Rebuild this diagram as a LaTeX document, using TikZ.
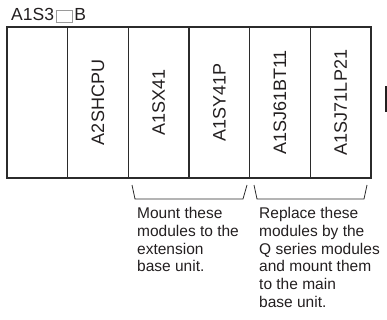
\documentclass[tikz,border=0pt]{standalone}
\usepackage{fontspec}
\setmainfont{Liberation Sans}
\usetikzlibrary{positioning}
\definecolor{FrameGrey}{HTML}{2B2B2B}
\definecolor{InkBlack}{HTML}{231F20}
\definecolor{BoxGrey}{HTML}{9A9A9A}

\begin{document}
\begin{tikzpicture}[x=1pt, y=-1pt,
    slot/.style={draw=FrameGrey, line width=1.2pt, minimum width=60.67pt,
                 minimum height=151pt, inner sep=0pt, outer sep=0pt,
                 text=InkBlack, font=\fontsize{18}{18}\selectfont},
    note/.style={anchor=north west, inner sep=0pt, align=left, text=InkBlack,
                 font=\fontsize{15.5}{17.8}\selectfont},
    brace/.style={draw=FrameGrey, line width=0.8pt}]
  \useasboundingbox (0,0) rectangle (387,320);

  % base unit title
  \node[anchor=base west, inner sep=0pt, text=InkBlack,
        font=\fontsize{17.5}{17.5}\selectfont] (model) at (11,21)
    {A1S3\hspace{1.5pt}{\setlength{\fboxrule}{0.7pt}\setlength{\fboxsep}{0pt}%
     \raisebox{-1pt}{\fcolorbox{BoxGrey}{white}{\rule{0pt}{11pt}\hspace{16pt}}}}\hspace{1.5pt}B};

  % slots
  \node[slot] (power) at (37.33,102.5) {};
  \node[slot, right=0pt of power] (cpu)  {\rotatebox{90}{A2SHCPU}};
  \node[slot, right=0pt of cpu]   (inp)  {\rotatebox{90}{A1SX41}};
  \node[slot, right=0pt of inp]   (outp) {\rotatebox{90}{A1SY41P}};
  \node[slot, right=0pt of outp]  (ccl)  {\rotatebox{90}{A1SJ61BT11}};
  \node[slot, right=0pt of ccl]   (net)  {\rotatebox{90}{A1SJ71LP21}};

  \fill[InkBlack] (385,86) rectangle (388,112);

  % brackets under the slots
  \coordinate (ioL) at (132,185);
  \coordinate (ioR) at (247,185);
  \coordinate (nwL) at (254,185);
  \coordinate (nwR) at (367,185);
  \draw[brace] (ioL) -- ++(3,14) -- ([shift={(-4,14)}]ioR) -- (ioR);
  \draw[brace] (nwL) -- ++(3,14) -- ([shift={(-3,14)}]nwR) -- (nwR);

  \node[note] (mountnote) at (137,207)
    {Mount these\\modules to the\\extension\\base unit.};
  \node[note] (replacenote) at (259,207)
    {Replace these\\modules by the\\Q series modules\\and mount them\\to the main\\base unit.};
\end{tikzpicture}
\end{document}
